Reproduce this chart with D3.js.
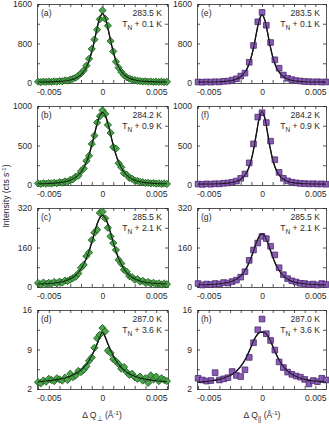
<!DOCTYPE html>
<html>
<head>
<meta charset="utf-8">
<script src="https://cdnjs.cloudflare.com/ajax/libs/d3/7.8.5/d3.min.js"></script>
<style>
  body { margin: 0; background: #fff; }
  svg { display: block; font-family: "Liberation Sans", Arial, sans-serif; }
</style>
</head>
<body>
<div id="chart"></div>
<script>
// x positions of the measured points (1/Å)
const qPerp = [-0.006,-0.00575,-0.0055,-0.00525,-0.005,-0.00475,-0.0045,-0.00425,-0.004,-0.00375,-0.0035,-0.00325,
  -0.003,-0.00275,-0.0025,-0.00225,-0.002,-0.00175,-0.0015,-0.00125,-0.001,-0.00075,-0.0005,-0.00025,0,
  0.00025,0.0005,0.00075,0.001,0.00125,0.0015,0.00175,0.002,0.00225,0.0025,0.00275,0.003,0.00325,0.0035,
  0.00375,0.004,0.00425,0.0045,0.00475,0.005,0.00525,0.0055,0.00575,0.006];
const qPar = [-0.006,-0.0056,-0.0052,-0.0048,-0.0044,-0.004,-0.0036,-0.0032,-0.0028,-0.0024,-0.002,-0.0016,
  -0.0012,-0.0008,-0.0004,0,0.0004,0.0008,0.0012,0.0016,0.002,0.0024,0.0028,0.0032,0.0036,0.004,0.0044,
  0.0048,0.0052,0.0056,0.006];
const qFit = [-0.006,-0.005,-0.004,-0.0035,-0.003,-0.0025,-0.002,-0.0015,-0.00125,-0.001,-0.00075,-0.0005,-0.00025,0,
  0.00025,0.0005,0.00075,0.001,0.00125,0.0015,0.002,0.0025,0.003,0.0035,0.004,0.005,0.006];

// intensities, transverse scans (a-d)
const intA = [25,18,28,22,30,24,33,27,40,35,52,48,70,85,110,150,195,255,350,490,690,880,1080,1290,1470,
  1300,1160,850,640,430,310,225,160,115,90,68,58,45,40,30,35,25,30,22,28,20,26,18,24];
const intB = [20,14,22,16,24,18,28,22,35,30,46,42,65,72,105,118,175,210,305,370,520,625,790,870,945,
  900,760,660,480,460,275,225,150,130,90,80,55,52,38,36,26,28,20,24,17,21,14,19,13];
const intC = [16,10,18,12,17,14,20,15,22,18,26,24,30,36,42,55,78,90,125,140,190,220,232,300,305,
  278,240,205,178,150,110,95,70,62,44,40,30,32,22,25,18,20,14,17,12,15,10,14,11];
const intD = [3.2,3.0,3.5,3.3,3.8,3.6,3.4,3.9,3.7,3.5,4.0,3.6,4.7,4.1,4.4,5.2,5.0,5.4,6.0,7.0,7.6,9.3,11.0,11.6,12.8,
  12.2,8.8,8.4,7.3,6.9,6.4,5.6,5.9,5.0,4.5,4.7,4.1,3.8,4.2,3.5,3.9,3.1,4.4,3.7,4.2,3.4,3.9,3.6,3.4];

// intensities, longitudinal scans (e-h)
const intE = [20,16,22,18,25,22,35,38,60,85,140,200,420,760,1240,1430,1170,820,470,300,160,95,68,48,40,30,26,22,25,19,21];
const intF = [12,8,14,10,16,14,22,26,35,50,85,140,280,520,860,915,790,555,320,160,85,52,35,27,20,18,14,16,12,14,10];
const intG = [14,8,12,10,14,12,18,16,22,28,40,62,108,150,178,205,196,165,130,78,50,34,25,20,15,14,10,12,8,14,10];
const intH = [3.9,3.6,3.4,3.5,4.9,3.6,3.8,4.0,5.1,4.4,4.2,5.4,7.6,10.2,12.5,14.4,11.8,10.6,8.9,6.8,5.8,5.0,4.6,4.3,4.1,3.7,2.9,3.5,3.3,3.9,3.6];

const fitA = [19,23,32,42,61,97,169,323,453,633,862,1113,1322,1405,1322,1113,862,633,453,323,169,97,61,42,32,23,19];
const fitB = [15,19,30,41,61,97,164,290,385,504,641,777,881,920,881,777,641,504,385,290,164,97,61,41,30,19,15];
const fitC = [12,14,19,24,33,47,73,116,146,181,219,255,280,290,280,255,219,181,146,116,73,47,33,24,19,14,12];
const fitD = [3.3,3.45,3.75,3.95,4.25,4.7,5.35,6.35,7.05,7.9,8.9,10.0,11.2,12.1,11.2,10.0,8.9,7.9,7.05,6.35,5.35,4.7,4.25,3.95,3.75,3.45,3.3];
const fitE = [18,20,26,33,46,72,127,252,366,534,765,1040,1284,1385,1284,1040,765,534,366,252,127,72,46,33,26,20,18];
const fitF = [11,13,16,20,27,41,72,145,215,323,478,672,853,930,853,672,478,323,215,145,72,41,27,20,16,13,11];
const fitG = [9,10,13,16,20,29,45,74,95,122,153,183,206,215,206,183,153,122,95,74,45,29,20,16,13,10,9];
const fitH = [3.2,3.4,3.7,4.0,4.4,5.0,6.0,7.5,8.5,9.6,10.7,11.5,12.0,12.1,12.0,11.5,10.7,9.6,8.5,7.5,6.0,5.0,4.4,4.0,3.7,3.4,3.2];

// y ticks per row
const yTicks = [[0,400,800,1200,1600],[0,250,500,750,1000],[0,80,160,240,320],[2,5.5,9,12.5,16]];
const yLabels = [[0,800,1600],[0,500,1000],[0,160,320],[2,9,16]];
const temps = ["283.5 K","284.2 K","285.5 K","287.0 K"];
const dTs = ["+ 0.1 K","+ 0.9 K","+ 2.1 K","+ 3.6 K"];
const letters = ["a","b","c","d","e","f","g","h"];
const xTicks = [-0.006,-0.005,-0.004,-0.003,-0.002,-0.001,0,0.001,0.002,0.003,0.004,0.005,0.006];
const xLabels = [-0.005,0,0.005];

const panels = [
  {q: qPerp, y: intA, fit: fitA}, {q: qPerp, y: intB, fit: fitB},
  {q: qPerp, y: intC, fit: fitC}, {q: qPerp, y: intD, fit: fitD},
  {q: qPar, y: intE, fit: fitE}, {q: qPar, y: intF, fit: fitF},
  {q: qPar, y: intG, fit: fitG}, {q: qPar, y: intH, fit: fitH}
];

const W = 329, H = 424;
const colX = [37, 197], colW = [131, 129], xDom = [[-0.0061, 0.0061], [-0.0061, 0.006]];
const top0 = 4, rowStep = 102, plotH = 79;
const ink = "#2a2a2a";
const fs = 8.6;

const svg = d3.select("#chart").append("svg")
    .attr("width", W).attr("height", H);

const fmt = v => (v < 0 ? "-" : "") + (v === 0 ? "0" : String(Math.abs(v)));

panels.forEach((p, i) => {
    const col = i < 4 ? 0 : 1, row = i % 4;
    const x0 = colX[col], y0 = top0 + row * rowStep, w = colW[col];
    const x = d3.scaleLinear().domain(xDom[col]).range([x0, x0 + w]);
    const yd = yTicks[row];
    const y = d3.scaleLinear().domain([yd[0], yd[yd.length - 1]]).range([y0 + plotH, y0]);

    const g = svg.append("g");

    const xl = d => xLabels.includes(d) ? fmt(d) : "";
    const yl = d => yLabels[row].includes(d) ? String(d) : "";

    const axB = g.append("g").attr("transform", `translate(0,${y0 + plotH})`)
        .call(d3.axisBottom(x).tickValues(xTicks).tickSize(-3).tickSizeOuter(0).tickPadding(6).tickFormat(xl));
    const axT = g.append("g").attr("transform", `translate(0,${y0})`)
        .call(d3.axisTop(x).tickValues(xTicks).tickSize(-3).tickSizeOuter(0).tickFormat(""));
    const axL = g.append("g").attr("transform", `translate(${x0},0)`)
        .call(d3.axisLeft(y).tickValues(yd).tickSize(-3).tickSizeOuter(0).tickPadding(5).tickFormat(yl));
    const axR = g.append("g").attr("transform", `translate(${x0 + w},0)`)
        .call(d3.axisRight(y).tickValues(yd).tickSize(-3).tickSizeOuter(0).tickFormat(""));

    [axB, axT, axL, axR].forEach(a => {
        a.selectAll("path, line").attr("stroke", ink).attr("stroke-width", 0.8);
        a.selectAll("text").attr("fill", ink).attr("font-size", fs)
            .attr("font-family", '"Liberation Sans", Arial, sans-serif');
    });

    const line = d3.line().x((d, k) => x(qFit[k])).y(d => y(d)).curve(d3.curveCatmullRom);
    g.append("path").datum(p.fit).attr("d", line)
        .attr("fill", "none").attr("stroke", "#111").attr("stroke-width", 1.3);

    // data markers
    const pts = p.q.map((q, k) => [q, p.y[k]]);
    if (col === 0) {
        g.selectAll("path.pt").data(pts).join("path")
            .attr("class", "pt")
            .attr("d", d3.symbol(d3.symbolSquare, 26))
            .attr("transform", d => `translate(${x(d[0])},${y(d[1])}) rotate(45)`)
            .attr("fill", "#4aa54a").attr("stroke", "#1c5a1c").attr("stroke-width", 0.8);
    } else {
        g.selectAll("path.pt").data(pts).join("path")
            .attr("class", "pt")
            .attr("d", d3.symbol(d3.symbolSquare, 32))
            .attr("transform", d => `translate(${x(d[0])},${y(d[1])})`)
            .attr("fill", "#8a5cb4").attr("stroke", "#4a2870").attr("stroke-width", 0.8);
    }

    // fit drawn again above the markers
    g.append("path").datum(p.fit).attr("d", line)
        .attr("fill", "none").attr("stroke", "#111").attr("stroke-width", 1.1).attr("opacity", 0.85);

    // annotations
    g.append("text").attr("x", x0 + 4).attr("y", y0 + 12)
        .attr("font-size", fs).attr("fill", ink).text(`(${letters[i]})`);
    g.append("text").attr("x", x0 + w - 6).attr("y", y0 + 12)
        .attr("font-size", fs).attr("fill", ink).attr("text-anchor", "end").text(temps[row]);
    const t2 = g.append("text").attr("x", x0 + w - 6).attr("y", y0 + 23)
        .attr("font-size", fs).attr("fill", ink).attr("text-anchor", "end");
    t2.append("tspan").text("T");
    t2.append("tspan").attr("font-size", 6.5).attr("dy", 2.5).text("N");
    t2.append("tspan").attr("dy", -2.5).text(" " + dTs[row]);
});

// axis titles
const yt = svg.append("text")
    .attr("transform", "translate(9,196) rotate(-90)")
    .attr("text-anchor", "middle").attr("font-size", fs).attr("fill", ink);
yt.append("tspan").text("Intensity (cts s");
yt.append("tspan").attr("font-size", 6).attr("dy", -3).text("-1");
yt.append("tspan").attr("dy", 3).text(")");

function xTitle(cx, sub) {
    const t = svg.append("text").attr("x", cx).attr("y", 418)
        .attr("text-anchor", "middle").attr("font-size", fs).attr("fill", ink);
    t.append("tspan").text("Δ Q");
    t.append("tspan").attr("font-size", 6.5).attr("dy", 2.5).text(sub);
    t.append("tspan").attr("dy", -2.5).text(" (Å");
    t.append("tspan").attr("font-size", 6).attr("dy", -3).text("-1");
    t.append("tspan").attr("dy", 3).text(")");
}
xTitle(102, "⊥");
xTitle(262, "||");
</script>
</body>
</html>
